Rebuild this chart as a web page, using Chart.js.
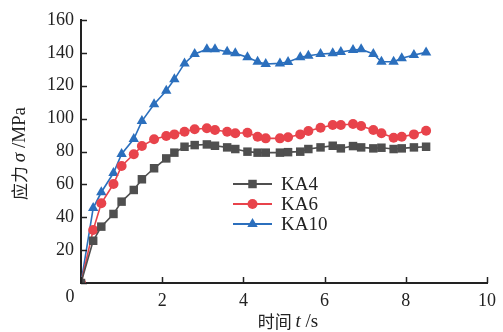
<!DOCTYPE html>
<html><head><meta charset="utf-8">
<script src="https://cdn.jsdelivr.net/npm/chart.js@4"></script>
<style>html,body{margin:0;padding:0;background:#fff}#wrap{width:503px;height:332px}</style>
</head><body><div id="wrap"><canvas id="c" width="503" height="332"></canvas></div>
<script>
const time = [0, 0.3, 0.5, 0.8, 1.0, 1.3, 1.5, 1.8, 2.1, 2.3, 2.55, 2.8, 3.1, 3.3, 3.6, 3.8, 4.1, 4.35, 4.55, 4.9, 5.1, 5.4, 5.6, 5.9, 6.2, 6.4, 6.7, 6.9, 7.2, 7.4, 7.7, 7.9, 8.2, 8.5];
const KA4 = [0, 25.7, 34.3, 42.0, 49.5, 56.6, 63.1, 69.8, 75.8, 79.3, 82.9, 83.9, 84.3, 83.5, 82.5, 81.5, 79.9, 79.3, 79.3, 79.3, 79.6, 79.9, 81.5, 82.5, 83.5, 81.9, 83.3, 82.5, 81.9, 82.3, 81.5, 81.9, 82.5, 82.9];
const KA6 = [0, 32.2, 48.5, 60.2, 71.2, 78.3, 83.3, 87.4, 89.4, 90.4, 92.0, 93.5, 94.1, 93.1, 92.0, 91.1, 91.4, 89.0, 88.0, 88.0, 88.7, 90.4, 92.5, 94.5, 96.1, 96.1, 96.7, 95.5, 93.1, 91.1, 88.4, 89.0, 90.4, 92.6];
const KA10 = [0, 45.6, 55.2, 66.9, 78.5, 87.6, 98.5, 108.7, 117.0, 123.9, 133.6, 139.3, 142.2, 142.2, 140.7, 139.7, 137.3, 134.6, 133.2, 133.6, 134.4, 137.3, 138.3, 139.3, 139.7, 140.5, 141.7, 142.2, 139.3, 134.6, 134.6, 136.7, 138.7, 140.3];
const seriesNames = ['KA4', 'KA6', 'KA10'];
const xTicks = [0, 2, 4, 6, 8, 10];
const yTicks = [0, 20, 40, 60, 80, 100, 120, 140, 160];

const SERIF = '"Liberation Serif", "Times New Roman", serif';
const CJK = '"Noto Sans CJK SC", sans-serif';
const colors = ['#4f4f4f', '#e8434b', '#2b6fbd'];
const styles = ['rect', 'circle', 'triangle'];
const radii = [6, 5, 6];
const series = [KA4, KA6, KA10];

const pts = s => time.map((t, i) => ({x: t, y: s[i]}));

const decor = {
  id: 'decor',
  afterDraw(chart) {
    const ctx = chart.ctx, xs = chart.scales.x, ys = chart.scales.y;
    const a = chart.chartArea;
    ctx.save();
    ctx.strokeStyle = '#222'; ctx.lineWidth = 1.5;
    xTicks.forEach(v => { const px = Math.round(xs.getPixelForValue(v)) + 0.5;
      ctx.beginPath(); ctx.moveTo(px, a.bottom); ctx.lineTo(px, a.bottom - 6); ctx.stroke(); });
    yTicks.forEach(v => { const py = Math.round(ys.getPixelForValue(v)) + 0.5;
      ctx.beginPath(); ctx.moveTo(a.left, py); ctx.lineTo(a.left + 6, py); ctx.stroke(); });
    ctx.fillStyle = '#222'; ctx.font = '18px ' + SERIF; ctx.textAlign = 'center'; ctx.textBaseline = 'middle';
    ctx.fillText('0', xs.getPixelForValue(0) - 11, a.bottom + 14);
    const lx = 233, rowY = [184, 204, 224];
    chart.data.datasets.forEach((ds, i) => {
      const y = rowY[i];
      ctx.strokeStyle = ds.borderColor; ctx.lineWidth = 2;
      ctx.beginPath(); ctx.moveTo(lx, y); ctx.lineTo(lx + 39, y); ctx.stroke();
      ctx.fillStyle = ds.backgroundColor;
      Chart.helpers.drawPoint(ctx, {pointStyle: ds.pointStyle, radius: ds.pointRadius, borderWidth: 0, rotation: 0}, lx + 19.5, y);
      ctx.fillStyle = '#222'; ctx.font = '19px ' + SERIF; ctx.textAlign = 'left'; ctx.textBaseline = 'middle';
      ctx.fillText(ds.label, lx + 48, y + 1);
    });
    function drawParts(parts, cx, cy, rot) {
      ctx.save(); ctx.translate(cx, cy); ctx.rotate(rot);
      let w = 0; parts.forEach(p => { ctx.font = p[1]; w += ctx.measureText(p[0]).width; });
      let x = -w / 2; ctx.textAlign = 'left'; ctx.textBaseline = 'middle'; ctx.fillStyle = '#222';
      parts.forEach(p => { ctx.font = p[1]; ctx.fillText(p[0], x, 0); x += ctx.measureText(p[0]).width; });
      ctx.restore();
    }
    drawParts([['时间 ', '17px ' + CJK], ['t', 'italic 19px ' + SERIF], [' /s', '19px ' + SERIF]], (a.left + a.right) / 2 + 4, 322, 0);
    drawParts([['应力 ', '17px ' + CJK], ['σ', 'italic 19px ' + SERIF], [' /MPa', '19px ' + SERIF]], 20, (a.top + a.bottom) / 2 + 2, -Math.PI / 2);
    ctx.restore();
  }
};

new Chart(document.getElementById('c'), {
  type: 'line',
  data: {
    datasets: seriesNames.map((n, i) => ({
      label: n, data: pts(series[i]), borderColor: colors[i], backgroundColor: colors[i],
      pointStyle: styles[i], pointRadius: radii[i], pointBorderWidth: 0, borderWidth: 1.6, tension: 0
    }))
  },
  options: {
    responsive: false, animation: false, devicePixelRatio: 1,
    layout: {padding: {top: 20, right: 12, left: 0, bottom: 0}},
    plugins: {legend: {display: false}, tooltip: {enabled: false}},
    scales: {
      x: {type: 'linear', min: 0, max: 10,
        afterFit(s) { s.height = 49; },
        afterBuildTicks(s) { s.ticks = xTicks.map(v => ({value: v})); },
        border: {display: true, color: '#222', width: 2},
        grid: {display: false, drawTicks: false},
        ticks: {color: '#222', padding: 7, font: {family: SERIF, size: 18}, maxRotation: 0,
          callback: v => v === 0 ? '' : String(v)}},
      y: {min: 0, max: 160,
        afterFit(s) { s.width = 81; },
        afterBuildTicks(s) { s.ticks = yTicks.map(v => ({value: v})); },
        border: {display: true, color: '#222', width: 2},
        grid: {display: false, drawTicks: false},
        ticks: {color: '#222', padding: 7, font: {family: SERIF, size: 18},
          callback: v => v === 0 ? '' : String(v)}}
    }
  },
  plugins: [decor]
});
</script></body></html>
